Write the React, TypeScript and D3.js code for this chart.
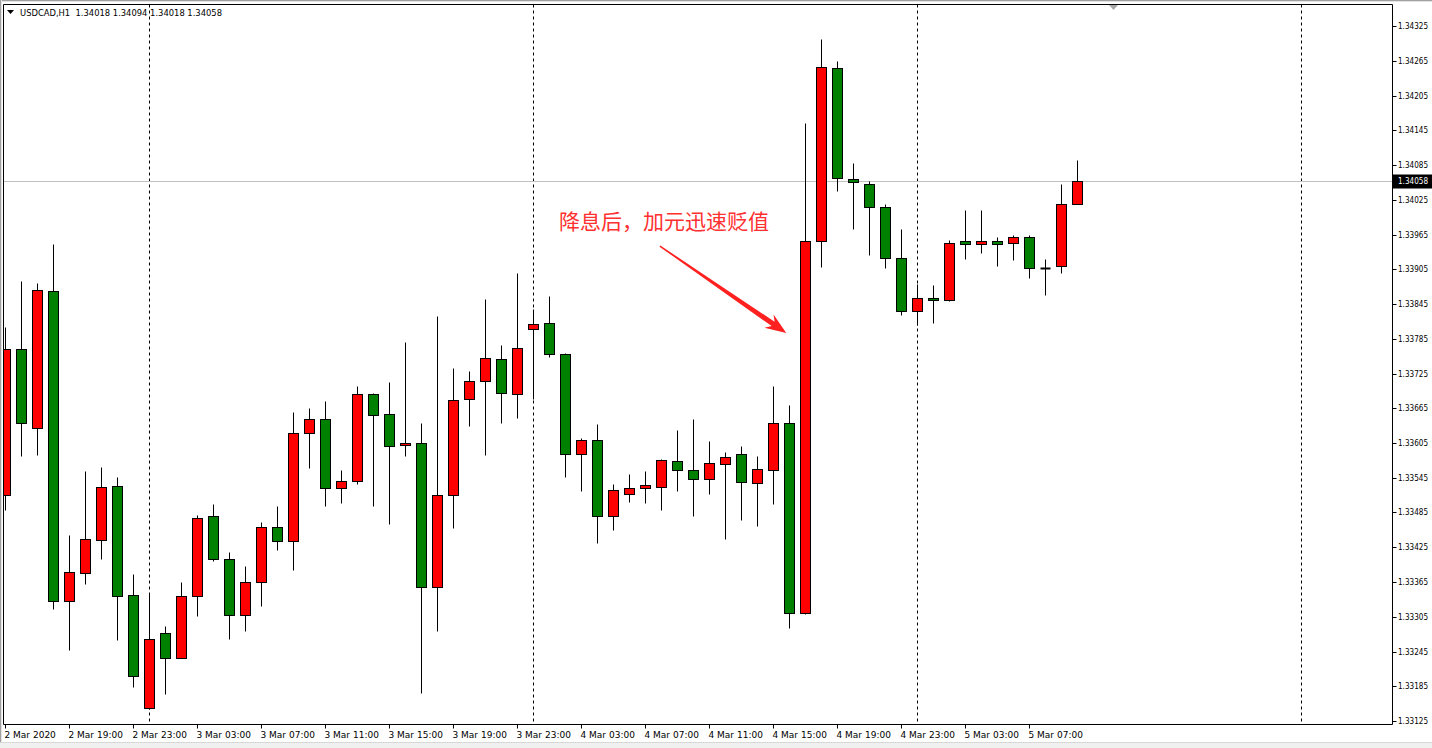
import React, { useEffect } from "react";
import * as d3 from "d3";

// ---------- data ----------
const symbolTitle = "USDCAD,H1";
const lastOHLC = ["1.34018", "1.34094", "1.34018", "1.34058"];
const lastPrice = 1.34058;

const open = [
  1.33515, 1.33768, 1.33631, 1.33868, 1.33333, 1.3338, 1.33438, 1.33531, 1.33342, 1.33147,
  1.33277, 1.33233, 1.33341, 1.33479, 1.33405, 1.33308, 1.33365, 1.3346, 1.33436, 1.33622,
  1.33647, 1.33527, 1.3354, 1.3369, 1.33655, 1.33602, 1.33605, 1.33357, 1.33515, 1.33681,
  1.33712, 1.3375, 1.3369, 1.33801, 1.33813, 1.33759, 1.33586, 1.3361, 1.33479, 1.33517,
  1.33527, 1.33529, 1.33574, 1.33559, 1.33543, 1.33569, 1.33586, 1.33536, 1.33559, 1.3364,
  1.33311, 1.33953, 1.34252, 1.3406, 1.34053, 1.34012, 1.33925, 1.33833, 1.33856, 1.33852,
  1.33953, 1.33948, 1.33953, 1.33951, 1.3396, 1.33908, 1.3391, 1.34018,
];
const high = [
  1.33805, 1.33884, 1.33882, 1.33948, 1.33447, 1.33556, 1.33564, 1.33547, 1.33378, 1.33346,
  1.33289, 1.33365, 1.3348, 1.33499, 1.33417, 1.33393, 1.33469, 1.33497, 1.33658, 1.33666,
  1.33677, 1.33559, 1.33704, 1.33691, 1.33711, 1.33779, 1.3364, 1.33824, 1.33735, 1.3373,
  1.33853, 1.33775, 1.33898, 1.33837, 1.33858, 1.33761, 1.33613, 1.33637, 1.33535, 1.33552,
  1.33557, 1.33577, 1.33628, 1.33646, 1.33608, 1.3359, 1.33599, 1.33583, 1.33703, 1.33671,
  1.34157, 1.34303, 1.34265, 1.34088, 1.34057, 1.34018, 1.33974, 1.33879, 1.33877, 1.33955,
  1.34007, 1.34007, 1.3396, 1.33964, 1.33965, 1.33923, 1.34052, 1.34094,
];
const low = [
  1.33489, 1.33582, 1.33585, 1.33318, 1.33247, 1.33362, 1.33404, 1.33264, 1.33183, 1.33145,
  1.33171, 1.33233, 1.33307, 1.33402, 1.33266, 1.33281, 1.33324, 1.3342, 1.33385, 1.33561,
  1.33497, 1.33501, 1.33535, 1.33497, 1.33466, 1.33582, 1.33174, 1.33281, 1.33458, 1.33634,
  1.33584, 1.33639, 1.33649, 1.33681, 1.33753, 1.33546, 1.33522, 1.33432, 1.33454, 1.33503,
  1.33501, 1.3349, 1.33522, 1.33479, 1.33517, 1.33439, 1.33472, 1.33462, 1.335, 1.33285,
  1.33309, 1.33909, 1.3404, 1.33975, 1.3393, 1.33907, 1.33826, 1.33809, 1.33812, 1.33851,
  1.33923, 1.33933, 1.33911, 1.33921, 1.3389, 1.3386, 1.33898, 1.34018,
];
const close = [
  1.33768, 1.3364, 1.3387, 1.33333, 1.33382, 1.33439, 1.33529, 1.33341, 1.33202, 1.33266,
  1.33233, 1.33341, 1.33475, 1.33405, 1.33308, 1.33365, 1.3346, 1.33436, 1.33622, 1.33647,
  1.33527, 1.3354, 1.3369, 1.33654, 1.336, 1.33605, 1.33356, 1.33515, 1.3368, 1.33712,
  1.33752, 1.33692, 1.33769, 1.33811, 1.33759, 1.33586, 1.3361, 1.33479, 1.33524, 1.33527,
  1.33533, 1.33576, 1.33559, 1.33543, 1.33571, 1.33581, 1.33538, 1.3356, 1.3364, 1.33311,
  1.33953, 1.34254, 1.34062, 1.34055, 1.34013, 1.33925, 1.33833, 1.33856, 1.33852, 1.33951,
  1.33948, 1.33953, 1.33949, 1.33961, 1.33908, 1.33908, 1.34018, 1.34058,
];

// one label every 4 bars, starting at bar 0 (2 Mar 15:00)
const timeLabels = [
  "2 Mar 2020", "2 Mar 19:00", "2 Mar 23:00", "3 Mar 03:00", "3 Mar 07:00", "3 Mar 11:00",
  "3 Mar 15:00", "3 Mar 19:00", "3 Mar 23:00", "4 Mar 03:00", "4 Mar 07:00", "4 Mar 11:00",
  "4 Mar 15:00", "4 Mar 19:00", "4 Mar 23:00", "5 Mar 03:00", "5 Mar 07:00",
];
const labelStep = 4;
// bar indices of day starts (00:00)
const daySeparators = [9, 33, 57, 81];

const priceTicks = [
  1.34325, 1.34265, 1.34205, 1.34145, 1.34085, 1.34025, 1.33965, 1.33905, 1.33845, 1.33785,
  1.33725, 1.33665, 1.33605, 1.33545, 1.33485, 1.33425, 1.33365, 1.33305, 1.33245, 1.33185,
  1.33125,
];

const annotationText = "降息后，加元迅速贬值";
// annotation anchors in data space: [barIndex, price]
const annotationTextAt = [34.6, 1.33974];
const arrowFrom = [40.9, 1.33945];
const arrowTo = [48.8, 1.33795];

// ---------- layout ----------
const W = 1432;
const H = 748;
const plotL = 3.5;
const plotT = 4.5;
const plotR = 1392.5;
const plotB = 724.5;
const FONT = "Tahoma, 'DejaVu Sans', sans-serif";

const x = d3.scaleLinear().domain([0, 1]).range([5.5, 21.5]);
const y = d3.scaleLinear().domain([1.33125, 1.34325]).range([721, 26]);
const py = (p: number) => Math.round(y(p)) + 0.5;

const BULL = "#ff0000";
const BEAR = "#008000";

export default function App() {
  useEffect(() => {
    document.body.style.margin = "0";
    document.body.style.background = "#ffffff";
  }, []);

  const bars = open.map((o, i) => ({ o, h: high[i], l: low[i], c: close[i], i }));

  // arrow polygon
  const ax0 = x(arrowFrom[0]);
  const ay0 = y(arrowFrom[1]);
  const ax1 = x(arrowTo[0]);
  const ay1 = y(arrowTo[1]);
  const len = Math.hypot(ax1 - ax0, ay1 - ay0);
  const ux = (ax1 - ax0) / len;
  const uy = (ay1 - ay0) / len;
  const nx = -uy;
  const ny = ux;
  const P = (d: number, w: number) => [ax0 + ux * d + nx * w, ay0 + uy * d + ny * w];
  const arrowPts = [
    P(0, 0.7),
    P(len - 16, 2.6),
    P(len - 21, 8),
    P(len, 0),
    P(len - 21, -8),
    P(len - 16, -2.6),
    P(0, -0.7),
  ]
    .map((p) => p.join(","))
    .join(" ");

  const lastY = py(lastPrice);

  return (
    <svg width={W} height={H} style={{ display: "block" }} xmlns="http://www.w3.org/2000/svg">
      <defs>
        <clipPath id="plot">
          <rect x={plotL + 0.5} y={plotT + 0.5} width={plotR - plotL - 1} height={plotB - plotT - 1} />
        </clipPath>
      </defs>
      <rect x={0} y={0} width={W} height={H} fill="#ffffff" />
      {/* outer window frame */}
      <line x1={0} x2={W} y1={0.5} y2={0.5} stroke="#a0a0a0" />
      <line x1={0} x2={W} y1={1.5} y2={1.5} stroke="#e3e3e3" />
      <line x1={0.5} x2={0.5} y1={0} y2={H} stroke="#a0a0a0" />
      <line x1={1.5} x2={1.5} y1={0} y2={H} stroke="#e3e3e3" />
      <rect x={0} y={742} width={W} height={6} fill="#f0f0f0" />
      <line x1={0} x2={W} y1={742.5} y2={742.5} stroke="#d8d8d8" />

      {/* day separators */}
      {daySeparators.map((d) => (
        <line
          key={"sep" + d}
          x1={x(d)}
          x2={x(d)}
          y1={plotT}
          y2={plotB}
          stroke="#000"
          strokeDasharray="3,3"
        />
      ))}

      {/* bid line */}
      <line x1={plotL} x2={plotR} y1={lastY} y2={lastY} stroke="#c0c0c0" />

      {/* candles */}
      <g clipPath="url(#plot)">
        {bars.map((b) => {
          const cx = x(b.i);
          const yo = py(b.o);
          const yc = py(b.c);
          const top = Math.min(yo, yc);
          const bot = Math.max(yo, yc);
          const doji = b.o === b.c;
          return (
            <g key={"c" + b.i}>
              <line x1={cx} x2={cx} y1={py(b.h)} y2={py(b.l)} stroke="#000" />
              {doji ? (
                <line x1={cx - 5} x2={cx + 5} y1={yo} y2={yo} stroke="#000" strokeWidth={2} />
              ) : (
                <rect
                  x={cx - 5}
                  y={top}
                  width={10}
                  height={Math.max(bot - top, 1)}
                  fill={b.c > b.o ? BULL : BEAR}
                  stroke="#000"
                />
              )}
            </g>
          );
        })}
      </g>

      {/* plot frame */}
      <line x1={plotL} x2={plotR} y1={plotT} y2={plotT} stroke="#000" />
      <line x1={plotL} x2={plotL} y1={plotT} y2={plotB} stroke="#000" />
      <line x1={plotR} x2={plotR} y1={plotT} y2={plotB} stroke="#000" />
      <line x1={plotL} x2={plotR} y1={plotB} y2={plotB} stroke="#000" />

      {/* shift marker */}
      <path d="M1109,5 L1118,5 L1113.5,10 Z" fill="#a8a8a8" />

      {/* header */}
      <path d="M7,10 L14,10 L10.5,14 Z" fill="#000" />
      <text
        x={20}
        y={16}
        fontFamily={FONT}
        fontSize={9}
        fill="#000"
        textLength={202}
        lengthAdjust="spacingAndGlyphs"
      >
        {symbolTitle + "\u00a0\u00a0" + lastOHLC.join(" ")}
      </text>

      {/* price axis */}
      {priceTicks.map((p) => (
        <g key={"pt" + p}>
          <line x1={plotR} x2={plotR + 4} y1={py(p)} y2={py(p)} stroke="#000" />
          <text
            x={1398}
            y={py(p)}
            dy="0.35em"
            fontFamily={FONT}
            fontSize={8.5}
            fill="#000"
            textLength={30}
            lengthAdjust="spacingAndGlyphs"
          >
            {p.toFixed(5)}
          </text>
        </g>
      ))}
      <rect x={plotR + 0.5} y={lastY - 7} width={W - plotR} height={14} fill="#000" />
      <text
        x={1398}
        y={lastY}
        dy="0.35em"
        fontFamily={FONT}
        fontSize={8.5}
        fill="#fff"
        textLength={30}
        lengthAdjust="spacingAndGlyphs"
      >
        {lastPrice.toFixed(5)}
      </text>

      {/* time axis */}
      {timeLabels.map((t, k) => {
        const tx = x(k * labelStep);
        return (
          <g key={"tl" + k}>
            <line x1={tx} x2={tx} y1={plotB} y2={plotB + 4} stroke="#000" />
            <text x={tx - 1} y={738} fontFamily={FONT} fontSize={9} fill="#000">
              {t}
            </text>
          </g>
        );
      })}

      {/* annotation */}
      <text
        x={x(annotationTextAt[0])}
        y={y(annotationTextAt[1])}
        fontFamily="'Noto Sans CJK SC', sans-serif"
        fontSize={21}
        fill="#ff3030"
      >
        {annotationText}
      </text>
      <polygon points={arrowPts} fill="#ff2020" />
    </svg>
  );
}
